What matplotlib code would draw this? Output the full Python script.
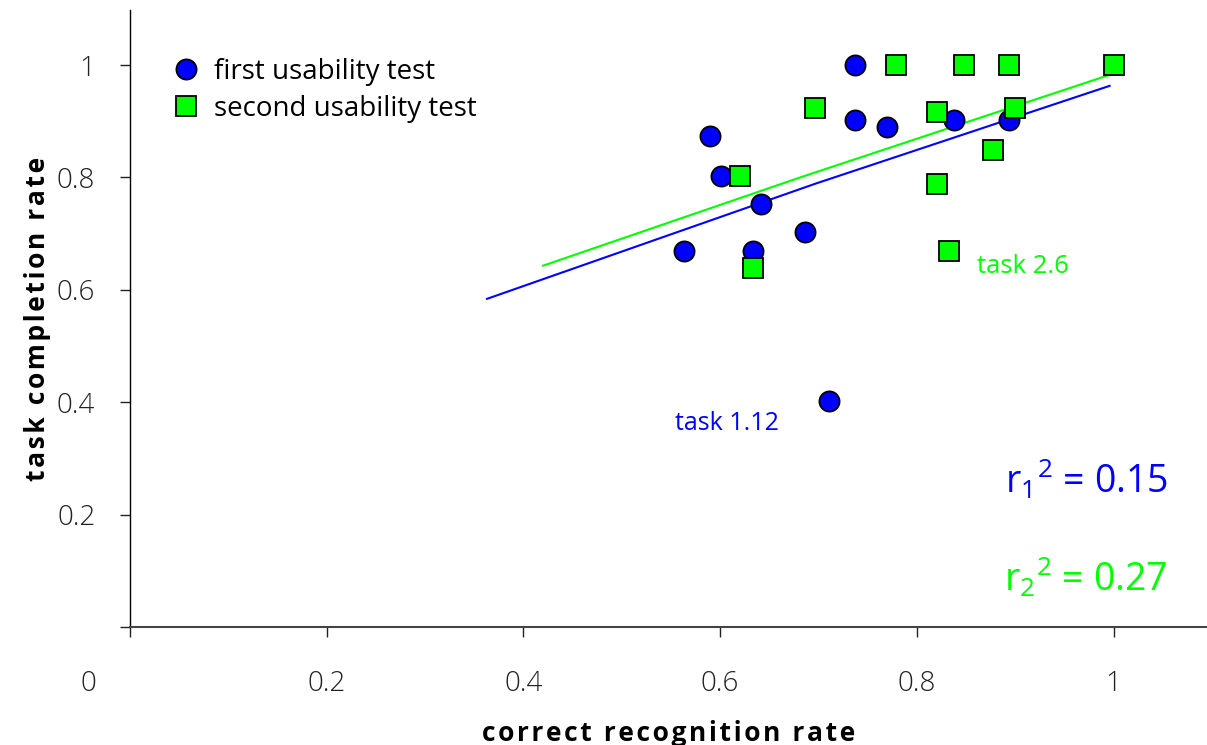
import matplotlib
matplotlib.use("Agg")
import matplotlib.pyplot as plt
import matplotlib.transforms as mtransforms

plt.rcParams['font.family'] = ['Open Sans', 'DejaVu Sans']
plt.rcParams['mathtext.fontset'] = 'custom'
plt.rcParams['mathtext.rm'] = 'Open Sans'
plt.rcParams['mathtext.it'] = 'Open Sans'

# first usability test
x1 = [0.737, 0.590, 0.601, 0.737, 0.770, 0.838, 0.894, 0.642, 0.563, 0.633, 0.686, 0.711]
y1 = [1.000, 0.874, 0.802, 0.902, 0.890, 0.902, 0.902, 0.753, 0.669, 0.669, 0.703, 0.402]
# second usability test
x2 = [0.779, 0.848, 0.894, 1.000, 0.696, 0.820, 0.900, 0.620, 0.877, 0.820, 0.633, 0.833]
y2 = [1.000, 1.000, 1.000, 1.000, 0.924, 0.917, 0.924, 0.802, 0.848, 0.788, 0.639, 0.669]
# regression lines
fit1_x = [0.363, 0.697, 0.996]
fit1_y = [0.584, 0.789, 0.963]
fit2_x = [0.420, 0.683, 0.995]
fit2_y = [0.643, 0.801, 0.982]

xticks = [0, 0.2, 0.4, 0.6, 0.8, 1.0]
xticklabels = ['0', '0.2', '0.4', '0.6', '0.8', '1']
yticks = [0, 0.2, 0.4, 0.6, 0.8, 1.0]
yticklabels = ['', '0.2', '0.4', '0.6', '0.8', '1']

BLUE = '#0000FF'
GREEN = '#00FF00'

def spaced(s):
    return '\u200a'.join(s)

fig = plt.figure(figsize=(12.07, 7.45), dpi=100)
ax = fig.add_axes([130/1207, 1-627/745, 1-130/1207, 617/745])

ax.plot(fit1_x, fit1_y, color=BLUE, lw=1.5, zorder=2)
ax.plot(fit2_x, fit2_y, color=GREEN, lw=1.5, zorder=2)
ax.plot(x1, y1, 'o', ms=14.5, mfc=BLUE, mec='black', mew=1.3, ls='none',
        label='first usability test', zorder=3)
ax.plot(x2, y2, 's', ms=14, mfc=GREEN, mec='black', mew=1.3, ls='none',
        label='second usability test', zorder=3)

ax.set_xlim(0, 1.095)
ax.set_ylim(0, 1.098)
ax.spines['top'].set_visible(False)
ax.spines['right'].set_visible(False)
ax.spines['left'].set_linewidth(1.0)
ax.spines['bottom'].set_linewidth(1.5)
ax.spines['bottom'].set_color('#444444')

ax.set_xticks(xticks)
ax.set_xticklabels(xticklabels, fontweight='light')
ax.set_yticks(yticks)
ax.set_yticklabels(yticklabels, fontweight='light')
ax.tick_params(axis='x', direction='out', length=7, width=1, pad=24, labelsize=20, colors='#222222')
ax.tick_params(axis='y', direction='out', length=7, width=1, pad=18, labelsize=20, colors='#222222')

# shift the "0" label to the left of the origin
lab0 = ax.get_xticklabels()[0]
lab0.set_transform(lab0.get_transform() + mtransforms.ScaledTranslation(-42/100, 0, fig.dpi_scale_trans))

ax.set_xlabel(spaced('correct recognition rate'), fontsize=19, fontweight='bold', labelpad=16)
ax.set_ylabel(spaced('task completion rate'), fontsize=19, fontweight='bold', labelpad=4)

ax.text(0.607, 0.363, 'task 1.12', color=BLUE, fontsize=18, ha='center', va='center')
ax.text(0.861, 0.642, 'task 2.6', color=GREEN, fontsize=18.5, ha='left', va='center')

ax.text(1.055, 0.262, 'r$_1$$^2$ = 0.15', color=BLUE, fontsize=27, ha='right', va='center')
ax.text(1.055, 0.089, 'r$_2$$^2$ = 0.27', color=GREEN, fontsize=27, ha='right', va='center')

leg = ax.legend(loc='upper left', bbox_to_anchor=(0.029, 0.94), frameon=False, fontsize=20,
                handletextpad=0.5, labelspacing=0.32, handlelength=1.0, borderaxespad=0)

fig.savefig('out.png', dpi=100)
